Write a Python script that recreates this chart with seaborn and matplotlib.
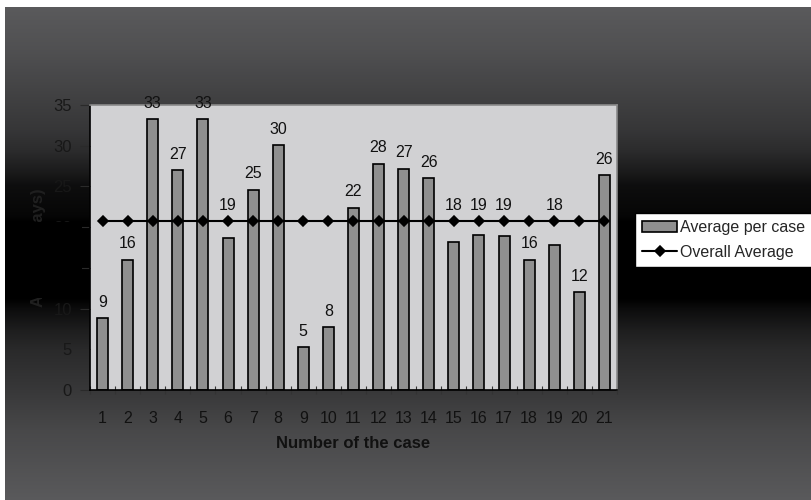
import numpy as np
import pandas as pd
import matplotlib
matplotlib.use("Agg")
import matplotlib.pyplot as plt
import seaborn as sns
from matplotlib.patches import Rectangle
from matplotlib.ticker import FixedLocator

# data
cases = [str(i) for i in range(1, 22)]
avg_per_case = [8.8, 16.0, 33.3, 27.0, 33.3, 18.7, 24.6, 30.1, 5.3, 7.7, 22.4,
                27.8, 27.2, 26.0, 18.2, 19.0, 18.9, 16.0, 17.8, 12.0, 26.4]
overall_avg = [20.7] * len(cases)
y_ticks = [0, 5, 10, 15, 20, 25, 30, 35]

df = pd.DataFrame({"case": cases, "avg": avg_per_case, "overall": overall_avg})

sns.set_style("white")
plt.rcParams["font.family"] = ["Liberation Sans", "DejaVu Sans"]

W, H = 812, 500
fig = plt.figure(figsize=(W / 100, H / 100), dpi=100, facecolor="white")

# background gradient (dark grey -> black band -> dark grey)
stops_y = [7, 50, 100, 130, 150, 170, 185, 215, 222, 298, 308, 330, 350, 390, 430, 500]
stops_v = [90, 80, 64, 54, 44, 28, 14, 6, 0, 0, 12, 30, 42, 56, 72, 90]
rows = np.arange(7, 500)
levels = (np.interp(rows, stops_y, stops_v) / 255.0)[:, None]
grad = np.clip(np.dstack([levels, levels, levels * 1.02]), 0, 1).repeat(2, axis=1)
bg = fig.add_axes([5 / W, 0, 1 - 5 / W, 1 - 7 / H], zorder=-10)
bg.imshow(grad, aspect="auto", extent=[0, 1, 0, 1], interpolation="bilinear")
bg.set_axis_off()

ax = fig.add_axes([90 / W, 1 - 390 / H, (617 - 90) / W, (390 - 105) / H])
ax.set_facecolor("#d1d1d3")

sns.barplot(data=df, x="case", y="avg", color="#8f8f8f", width=0.44,
            edgecolor="black", linewidth=1.2, saturation=1, ax=ax,
            label="Average per case", zorder=2)

sns.pointplot(data=df, x="case", y="overall", color="black", markers="D",
              linestyles="-", markersize=5, linewidth=1.5, ax=ax,
              label="Overall Average", zorder=3)

# value labels: those that would collide with the average line sit above it
for i, (v, m) in enumerate(zip(avg_per_case, overall_avg)):
    y = m if (m - 4 < v < m + 1) else v
    ax.annotate(f"{v:.0f}", (i, y), xytext=(0, 6), textcoords="offset points",
                ha="center", va="bottom", fontsize=11.5, color="#111111",
                zorder=5, annotation_clip=False)

ax.set_xlim(-0.5, len(cases) - 0.5)
ax.set_ylim(0, 35)
ax.set_yticks(y_ticks)
ax.tick_params(axis="y", length=7, width=0.8, color="#2a2a2a", pad=6,
               labelsize=12, labelcolor="#181818", left=True)
ax.tick_params(axis="x", which="major", length=0, pad=15, labelsize=11.5,
               labelcolor="#111111")
ax.xaxis.set_minor_locator(FixedLocator(np.arange(-0.5, len(cases), 1.0)))
ax.tick_params(axis="x", which="minor", length=6, width=0.8, direction="inout",
               color="#333333", bottom=True)

for side in ["left", "bottom"]:
    ax.spines[side].set_color("black")
    ax.spines[side].set_linewidth(1.2)
for side in ["top", "right"]:
    ax.spines[side].set_color("#8a8a8a")
    ax.spines[side].set_linewidth(1.2)
    ax.spines[side].set_visible(True)

ax.set_xlabel("Number of the case", fontsize=12, fontweight="bold",
              color="#111111", labelpad=7)
ax.set_ylabel("Average (days)", fontsize=12, fontweight="bold",
              color="#202020", labelpad=5)

# the black band swallows the dark axis text on the left
fig.add_artist(Rectangle((5 / W, 1 - 298 / H), (82 - 5) / W, (298 - 222) / H,
                         transform=fig.transFigure, facecolor="black",
                         edgecolor="none", zorder=20))

if ax.get_legend():
    ax.get_legend().remove()
handles, labels = ax.get_legend_handles_labels()
order = [labels.index("Average per case"), labels.index("Overall Average")]
leg = fig.legend([handles[k] for k in order], [labels[k] for k in order],
                 loc="upper left", bbox_to_anchor=(635 / W, 1 - 213 / H),
                 frameon=True, fancybox=False, edgecolor="black",
                 facecolor="white", framealpha=1, fontsize=11.5,
                 handlelength=2.2, handletextpad=0.15, borderpad=0.45,
                 labelspacing=0.6, borderaxespad=0)
leg.get_frame().set_linewidth(1.0)

fig.savefig("out.png", dpi=100, facecolor=fig.get_facecolor())
